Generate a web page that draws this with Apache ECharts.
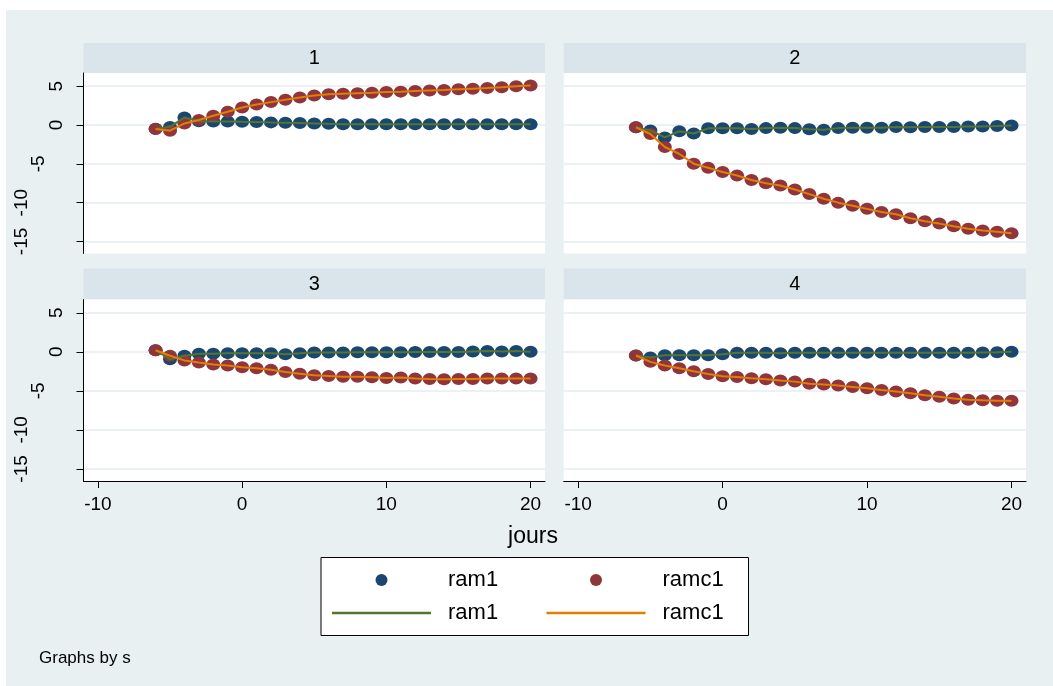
<!DOCTYPE html>
<html>
<head>
<meta charset="utf-8">
<script src="https://cdn.jsdelivr.net/npm/echarts@6/dist/echarts.min.js"></script>
<style>
html,body{margin:0;padding:0;background:#ffffff;}
#chart{width:1053px;height:686px;}
</style>
</head>
<body>
<div id="chart"></div>
<script>
// ---- data ----
const jours = [-6,-5,-4,-3,-2,-1,0,1,2,3,4,5,6,7,8,9,10,11,12,13,14,15,16,17,18,19,20];
const panels = ['1','2','3','4'];
const ram1_1  = [-0.47,-0.25,0.98,0.5,0.46,0.46,0.42,0.4,0.34,0.3,0.26,0.21,0.15,0.1,0.1,0.1,0.1,0.1,0.1,0.1,0.1,0.1,0.1,0.1,0.1,0.1,0.1];
const ramc1_1 = [-0.5,-0.73,0.2,0.64,1.2,1.7,2.26,2.65,2.95,3.25,3.55,3.8,3.95,4.03,4.1,4.15,4.25,4.3,4.38,4.46,4.5,4.6,4.68,4.76,4.85,4.98,5.1];
const ram1_2  = [-0.3,-0.7,-1.6,-0.8,-1.1,-0.43,-0.43,-0.43,-0.5,-0.4,-0.35,-0.4,-0.55,-0.6,-0.4,-0.35,-0.35,-0.35,-0.26,-0.3,-0.26,-0.26,-0.26,-0.2,-0.2,-0.13,-0.05];
const ramc1_2 = [-0.3,-1.16,-2.83,-3.73,-4.98,-5.5,-6.05,-6.5,-7.08,-7.5,-7.8,-8.3,-8.9,-9.5,-10.0,-10.4,-10.8,-11.2,-11.5,-12.0,-12.4,-12.7,-13.05,-13.35,-13.6,-13.75,-13.95];
const ram1_3  = [0.2,-0.95,-0.5,-0.26,-0.26,-0.17,-0.17,-0.17,-0.17,-0.3,-0.2,-0.09,-0.09,-0.09,-0.05,-0.05,-0.05,-0.05,-0.03,-0.03,-0.03,-0.03,0.03,0.09,0.05,0.09,0.0];
const ramc1_3 = [0.2,-0.5,-1.1,-1.37,-1.63,-1.76,-1.97,-2.1,-2.3,-2.6,-2.8,-3.0,-3.1,-3.2,-3.2,-3.26,-3.35,-3.3,-3.43,-3.48,-3.52,-3.48,-3.48,-3.43,-3.43,-3.43,-3.43];
const ram1_4  = [-0.47,-0.73,-0.43,-0.43,-0.43,-0.43,-0.3,-0.13,-0.13,-0.13,-0.17,-0.13,-0.13,-0.13,-0.13,-0.13,-0.13,-0.13,-0.13,-0.13,-0.13,-0.13,-0.13,-0.13,-0.09,-0.05,0.0];
const ramc1_4 = [-0.47,-1.29,-1.76,-2.1,-2.49,-2.83,-3.13,-3.22,-3.39,-3.52,-3.69,-3.82,-4.08,-4.2,-4.33,-4.5,-4.68,-4.9,-5.1,-5.32,-5.58,-5.75,-5.97,-6.14,-6.22,-6.27,-6.27];
const ram1Data  = [ram1_1, ram1_2, ram1_3, ram1_4];
const ramc1Data = [ramc1_1, ramc1_2, ramc1_3, ramc1_4];
const xTicks = [-10, 0, 10, 20];
const yTicks = [-15, -10, -5, 0, 5];
const xTitle = 'jours';
const note = 'Graphs by s';

// ---- style ----
const FONT = '"Liberation Sans", Arial, sans-serif';
const C_BLUE = '#1a476f', C_RED = '#90353b', C_GREEN = '#55752f', C_ORANGE = '#e37e00';
const GRIDLINE = '#e6eef1';
const STRIP = '#d9e5ea';
const BG = '#e8f0f2';

const L = [83.5, 563.7];
const W = [461.5, 462.3];
const T = [73, 299.5];
const H = [180.5, 181.5];

// rotated y labels: Stata pushes longer strings further from the axis
const yLabelRich = {
  s1: {fontSize: 19, fontFamily: FONT, color: '#000', padding: [0, 0, 0, 0]},
  s2: {fontSize: 19, fontFamily: FONT, color: '#000', padding: [0, 0, 18, 0]},
  s3: {fontSize: 19, fontFamily: FONT, color: '#000', padding: [0, 0, 35, 0]}
};

const grids = [], xAxes = [], yAxes = [], series = [];
panels.forEach((p, i) => {
  const col = i % 2, row = Math.floor(i / 2);
  grids.push({left: L[col], top: T[row], width: W[col], height: H[row],
    show: true, backgroundColor: '#ffffff', borderWidth: 0, containLabel: false});
  const showX = row === 1, showY = col === 0;
  xAxes.push({type: 'value', gridIndex: i, min: -11, max: 21,
    axisLine: {show: showX, onZero: false, lineStyle: {color: '#000', width: 1}},
    axisTick: {show: showX, length: 7, customValues: xTicks, lineStyle: {color: '#000'}},
    axisLabel: {show: showX, customValues: xTicks, margin: 14, color: '#000', fontSize: 19, fontFamily: FONT},
    splitLine: {show: false}});
  yAxes.push({type: 'value', gridIndex: i, min: -16.55, max: 6.7,
    axisLine: {show: showY, onZero: false, lineStyle: {color: '#000', width: 1}},
    axisTick: {show: showY, length: 7, customValues: yTicks, lineStyle: {color: '#000'}},
    axisLabel: {show: showY, customValues: yTicks, rotate: 90, margin: 17, color: '#000', fontSize: 19, fontFamily: FONT,
      formatter: v => { const s = String(v); return '{s' + Math.min(s.length, 3) + '|' + s + '}'; },
      rich: yLabelRich},
    splitLine: {show: true, lineStyle: {color: GRIDLINE, width: 1.5}}});
  const pts = (arr) => jours.map((x, k) => [x, arr[k]]);
  series.push({name: 'ram1', type: 'scatter', xAxisIndex: i, yAxisIndex: i, data: pts(ram1Data[i]),
    symbol: 'circle', symbolSize: [14, 12], itemStyle: {color: C_BLUE, opacity: 1}, z: 2});
  series.push({name: 'ramc1', type: 'scatter', xAxisIndex: i, yAxisIndex: i, data: pts(ramc1Data[i]),
    symbol: 'circle', symbolSize: [14, 12], itemStyle: {color: C_RED, opacity: 1}, z: 3});
  series.push({name: 'ram1 ', type: 'line', xAxisIndex: i, yAxisIndex: i, data: pts(ram1Data[i]),
    symbol: 'none', lineStyle: {color: C_GREEN, width: 2}, itemStyle: {color: C_GREEN}, z: 4});
  series.push({name: 'ramc1 ', type: 'line', xAxisIndex: i, yAxisIndex: i, data: pts(ramc1Data[i]),
    symbol: 'none', lineStyle: {color: C_ORANGE, width: 2}, itemStyle: {color: C_ORANGE}, z: 5});
});

// legend: icon box 99px wide; circle icons are centred in that box
const ICON_W = 99, DOT = 12;
const boxL = [332, 546.5];
const legendBase = {orient: 'horizontal', padding: 0, itemWidth: ICON_W, selectedMode: false,
  formatter: n => n.trim(),
  textStyle: {fontSize: 22, fontFamily: FONT, color: '#000', padding: [0, 0, 0, 12]}, z: 10};
const dotShift = (ICON_W - DOT) / 2;
const legends = [
  Object.assign({}, legendBase, {left: boxL[0] + dotShift, top: 569, itemHeight: DOT, data: [{name: 'ram1', icon: 'circle'}]}),
  Object.assign({}, legendBase, {left: boxL[1] + dotShift, top: 569, itemHeight: DOT, data: [{name: 'ramc1', icon: 'circle'}]}),
  Object.assign({}, legendBase, {left: boxL[0], top: 602, itemHeight: 2.5, data: [{name: 'ram1 ', icon: 'rect'}]}),
  Object.assign({}, legendBase, {left: boxL[1], top: 602, itemHeight: 2.5, data: [{name: 'ramc1 ', icon: 'rect'}]})
];

const graphics = [
  {type: 'rect', left: 6, top: 10, shape: {width: 1047, height: 676}, style: {fill: BG}, z: -10, silent: true},
  {type: 'rect', left: L[0], top: 43, shape: {width: W[0], height: 30}, style: {fill: STRIP}, z: -5, silent: true},
  {type: 'rect', left: L[1], top: 43, shape: {width: W[1], height: 30}, style: {fill: STRIP}, z: -5, silent: true},
  {type: 'rect', left: L[0], top: 268.5, shape: {width: W[0], height: 31}, style: {fill: STRIP}, z: -5, silent: true},
  {type: 'rect', left: L[1], top: 268.5, shape: {width: W[1], height: 31}, style: {fill: STRIP}, z: -5, silent: true},
  {type: 'rect', left: 320.5, top: 557, shape: {width: 427.5, height: 78}, style: {fill: '#ffffff', stroke: '#000', lineWidth: 1}, z: 1, silent: true}
];
const stripY = [58, 284];
panels.forEach((p, i) => {
  const col = i % 2, row = Math.floor(i / 2);
  graphics.push({type: 'text', x: L[col] + W[col] / 2, y: stripY[row], z: 5, silent: true,
    style: {text: p, fontSize: 20, fontFamily: FONT, fill: '#000', align: 'center', verticalAlign: 'middle'}});
});
graphics.push({type: 'text', x: 533, y: 537, z: 5, silent: true,
  style: {text: xTitle, fontSize: 23, fontFamily: FONT, fill: '#000', align: 'center', verticalAlign: 'middle'}});
graphics.push({type: 'text', x: 39, y: 658, z: 5, silent: true,
  style: {text: note, fontSize: 17, fontFamily: FONT, fill: '#000', align: 'left', verticalAlign: 'middle'}});

const chart = echarts.init(document.getElementById('chart'));
chart.setOption({
  animation: false,
  backgroundColor: '#ffffff',
  grid: grids, xAxis: xAxes, yAxis: yAxes, series: series,
  legend: legends, graphic: graphics
});
</script>
</body>
</html>
